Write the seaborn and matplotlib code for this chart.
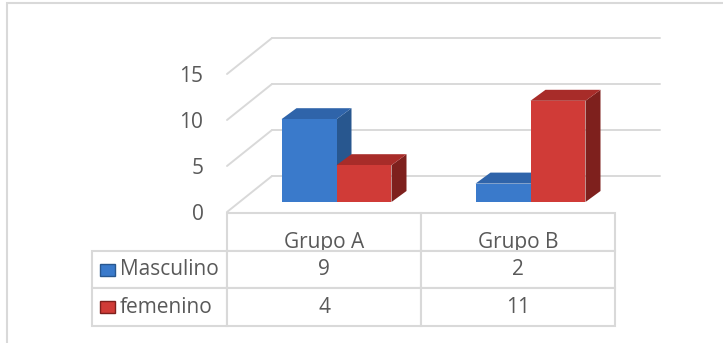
import numpy as np
import pandas as pd
import seaborn as sns
import matplotlib.pyplot as plt
from matplotlib.patches import Polygon, Rectangle

# datos
grupos = ['Grupo A', 'Grupo B']
sexos = ['Masculino', 'femenino']
masculino = [9, 2]
femenino = [4, 11]
yticks = [0, 5, 10, 15]

# colores (frente, lado, techo)
colores = {'Masculino': ('#3a7acb', '#28578f', '#2f64aa'),
           'femenino': ('#d03b37', '#7e201d', '#a82c29')}
gris_txt = '#595959'
gris_lin = '#d9d9d9'

sns.set_theme(style='white')
plt.rcParams['font.family'] = ['Open Sans', 'DejaVu Sans']

W, H = 723, 343
fig = plt.figure(figsize=(W / 100, H / 100), dpi=100)
ax = fig.add_axes([227 / W, (H - 212) / H, 388 / W, 138 / H])

df = pd.DataFrame({'grupo': grupos * 2,
                   'sexo': [s for s in sexos for _ in grupos],
                   'n': masculino + femenino})
sns.barplot(data=df, x='grupo', y='n', hue='sexo', hue_order=sexos,
            palette=[colores[s][0] for s in sexos], width=0.567,
            saturation=1, linewidth=0, legend=False, ax=ax)
ax.set_xlim(-0.5, 1.5)
ax.set_ylim(0, 15)

# pixeles -> unidades de datos
ux = 2 / 388
uy = 15 / 138
fondo_x, fondo_y = 45 * ux, 36 * uy      # profundidad del piso
frente_x, frente_y = 12.5 * ux, 10 * uy  # posicion del frente de las barras
prof_x, prof_y = 15 * ux, 11 * uy        # profundidad de las barras

# paredes: lineas de cuadricula
for v in yticks:
    ax.plot([-0.5 + fondo_x, 1.5 + fondo_x], [v + fondo_y, v + fondo_y],
            color=gris_lin, lw=1.4, clip_on=False, zorder=0.5)
    ax.plot([-0.5, -0.5 + fondo_x], [v, v + fondo_y],
            color=gris_lin, lw=1.4, clip_on=False, zorder=0.5)

# barras 3D
barras = []
for sexo, cont in zip(sexos, ax.containers):
    for bar in cont:
        barras.append((bar.get_x(), sexo, bar))
barras.sort(key=lambda b: b[0])
for k, (x0, sexo, bar) in enumerate(barras):
    w, h = bar.get_width(), bar.get_height()
    xf, yf = x0 + frente_x, frente_y
    bar.set_x(xf)
    bar.set_y(yf)
    bar.set_clip_on(False)
    bar.set_zorder(2 + k * 0.1 + 0.05)
    lado = Polygon([(xf + w, yf), (xf + w + prof_x, yf + prof_y),
                    (xf + w + prof_x, yf + h + prof_y), (xf + w, yf + h)],
                   closed=True, facecolor=colores[sexo][1], lw=0,
                   clip_on=False, zorder=2 + k * 0.1)
    techo = Polygon([(xf, yf + h), (xf + prof_x, yf + h + prof_y),
                     (xf + w + prof_x, yf + h + prof_y), (xf + w, yf + h)],
                    closed=True, facecolor=colores[sexo][2], lw=0,
                    clip_on=False, zorder=2 + k * 0.1)
    ax.add_patch(lado)
    ax.add_patch(techo)

ax.set_yticks(yticks)
ax.set_xticks([])
ax.set_xlabel('')
ax.set_ylabel('')
ax.tick_params(axis='y', length=0, pad=17, labelsize=15, labelcolor=gris_txt)
sns.despine(ax=ax, left=True, bottom=True)

# tabla de datos
celdas = [[s] + [str(v) for v in vals] for s, vals in zip(sexos, [masculino, femenino])]
tx0, ttop, tbot = (92 - 227) / 388, (212 - 213) / 138, (212 - 326) / 138
tabla = ax.table(cellText=celdas, colLabels=[''] + grupos, colWidths=[135, 194, 194],
                 cellLoc='center', bbox=[tx0, tbot, (615 - 92) / 388, ttop - tbot])
tabla.auto_set_font_size(False)
tabla.set_fontsize(15)
for (r, c), cell in tabla.get_celld().items():
    cell.set_edgecolor(gris_lin)
    cell.set_linewidth(1.5)
    cell.get_text().set_color(gris_txt)
    if r == 0 and c == 0:
        cell.visible_edges = 'open'
    if r == 0:
        cell.get_text().set_va('top')
    if r > 0 and c == 0:
        cell._loc = 'left'
        cell.PAD = 28 / 135
        cell.get_text().set_ha('left')

# marcadores de leyenda
alto_fila = (ttop - tbot) / 3
for i, sexo in enumerate(sexos):
    yc = ttop - alto_fila * (i + 1.5)
    ax.add_patch(Rectangle((tx0 + 8 / 388, yc - 6 / 138), 15 / 388, 12 / 138,
                           transform=ax.transAxes,
                           facecolor=colores[sexo][0], edgecolor=colores[sexo][1],
                           lw=1, clip_on=False, zorder=5))

# marco del grafico
fig.patches.append(Rectangle((7 / W, -0.1), 1.2, 1 - 3 / H + 0.1, transform=fig.transFigure,
                             fill=False, edgecolor=gris_lin, lw=1.5))

fig.savefig('out.png', dpi=100)
